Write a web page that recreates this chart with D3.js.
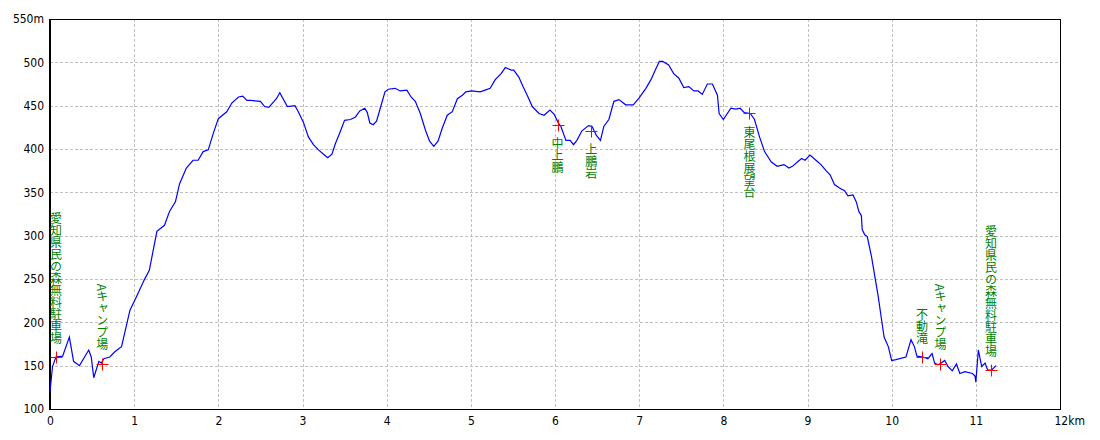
<!DOCTYPE html>
<html>
<head>
<meta charset="utf-8">
<script src="https://cdn.jsdelivr.net/npm/d3@7"></script>
<style>
  body { margin: 0; background: #fff; }
  .tick text { font-family: "Liberation Sans Narrow", "DejaVu Sans Condensed", sans-serif; font-stretch: condensed; font-size: 12px; fill: #000; }
  .wp { font-family: "Noto Sans CJK JP", sans-serif; font-size: 12px; fill: #008000; writing-mode: vertical-rl; }
</style>
</head>
<body>
<div id="chart"></div>
<script>
// altitude profile (km, m)
var distKm = [0.00, 0.03, 0.07, 0.15, 0.23, 0.28, 0.35, 0.46, 0.49, 0.52, 0.58, 0.61, 0.64, 0.71, 0.77, 0.85, 0.95,
  1.03, 1.12, 1.18, 1.27, 1.36, 1.42, 1.49, 1.54, 1.62, 1.70, 1.76, 1.82, 1.88, 1.94, 2.00, 2.10, 2.16, 2.24, 2.29,
  2.34, 2.38, 2.50, 2.55, 2.60, 2.69, 2.73, 2.82, 2.91, 2.95, 3.01, 3.07, 3.13, 3.19, 3.25, 3.30, 3.35, 3.39, 3.44,
  3.50, 3.57, 3.63, 3.68, 3.74, 3.77, 3.80, 3.84, 3.88, 3.93, 3.98, 4.02, 4.10, 4.16, 4.24, 4.29, 4.34, 4.40, 4.46,
  4.51, 4.56, 4.61, 4.66, 4.72, 4.78, 4.84, 4.90, 4.94, 5.01, 5.11, 5.17, 5.23, 5.29, 5.36, 5.41, 5.48, 5.51, 5.57,
  5.62, 5.67, 5.73, 5.81, 5.87, 5.94, 5.99, 6.04, 6.07, 6.13, 6.18, 6.22, 6.26, 6.32, 6.40, 6.44, 6.49, 6.54, 6.58,
  6.64, 6.70, 6.76, 6.84, 6.93, 7.00, 7.08, 7.14, 7.20, 7.24, 7.28, 7.35, 7.41, 7.47, 7.53, 7.59, 7.65, 7.70, 7.75,
  7.81, 7.87, 7.93, 7.95, 8.00, 8.09, 8.15, 8.20, 8.25, 8.32, 8.37, 8.43, 8.49, 8.57, 8.64, 8.72, 8.78, 8.82, 8.88,
  8.93, 8.97, 9.03, 9.10, 9.16, 9.22, 9.27, 9.32, 9.38, 9.44, 9.48, 9.54, 9.58, 9.61, 9.64, 9.65, 9.68, 9.71, 9.76,
  9.80, 9.84, 9.88, 9.91, 9.96, 10.00, 10.05, 10.17, 10.23, 10.27, 10.30, 10.37, 10.43, 10.48, 10.51, 10.55, 10.59,
  10.63, 10.67, 10.72, 10.77, 10.81, 10.87, 10.96, 10.99, 11.00, 11.03, 11.07, 11.11, 11.14, 11.19, 11.24];
var altM = [120, 149, 160, 161, 183, 155, 150, 168, 160, 136, 155, 153, 158, 160, 166, 172, 214,
  230, 249, 260, 305, 312, 328, 339, 360, 378, 387, 387, 397, 399, 418, 435, 443, 453, 460, 461,
  456, 456, 455, 449, 448, 458, 465, 449, 450, 443, 431, 414, 405, 399, 394, 390, 394, 406, 418,
  433, 434, 437, 444, 447, 442, 430, 428, 432, 449, 466, 469, 470, 467, 468, 460, 455, 441, 422,
  409, 403, 409, 424, 439, 443, 458, 462, 466, 467, 466, 468, 470, 480, 487, 494, 491, 491, 483,
  472, 462, 449, 441, 439, 445, 440, 430, 426, 410, 410, 405, 410, 421, 427, 426, 416, 410, 426,
  434, 455, 457, 451, 451, 459, 470, 480, 493, 501, 501, 497, 487, 482, 471, 472, 467, 467, 463,
  475, 475, 462, 441, 434, 447, 446, 447, 442, 441, 434, 414, 397, 385, 380, 382, 378, 380, 385,
  389, 387, 393, 387, 382, 375, 370, 359, 355, 352, 346, 347, 339, 328, 323, 307, 301, 299, 276,
  253, 230, 203, 183, 172, 156, 157, 160, 180, 172, 161, 160, 158, 164, 153, 151, 153,
  156, 149, 144, 152, 141, 143, 141, 138, 131, 168, 149, 153, 145, 145, 150];

// waypoints
var wpNames = ["愛知県民の森無料駐車場", "Aキャンプ場", "中上鵬", "上鵬岩", "東尾根展望台", "不動滝", "Aキャンプ場", "愛知県民の森無料駐車場"];
var wpKm = [0.07, 0.62, 6.03, 6.43, 8.31, 10.36, 10.58, 11.18];
var wpAlt = [160, 152, 428, 421, 441, 160, 152, 145];

var xTicks = [0, 1, 2, 3, 4, 5, 6, 7, 8, 9, 10, 11, 12];
var yTicks = [100, 150, 200, 250, 300, 350, 400, 450, 500, 550];

var width = 1100;
var height = 440;
var mLeft = 50, mRight = 1060, mTop = 19, mBottom = 409;

var svg = d3.select("#chart").append("svg")
  .attr("width", width)
  .attr("height", height);

var xS = d3.scaleLinear().domain([0, 12]).range([mLeft, mRight]);
var yS = d3.scaleLinear().domain([100, 550]).range([mBottom, mTop]);

// grid
svg.append("g").selectAll("line").data(xTicks.slice(1, -1)).enter().append("line")
  .attr("x1", function(d) { return Math.round(xS(d)) + 0.5; })
  .attr("x2", function(d) { return Math.round(xS(d)) + 0.5; })
  .attr("y1", mTop).attr("y2", mBottom)
  .attr("stroke", "#c0c0c0").attr("stroke-dasharray", "3,2");
svg.append("g").selectAll("line").data(yTicks.slice(1, -1)).enter().append("line")
  .attr("y1", function(d) { return Math.round(yS(d)) + 0.5; })
  .attr("y2", function(d) { return Math.round(yS(d)) + 0.5; })
  .attr("x1", mLeft).attr("x2", mRight)
  .attr("stroke", "#c0c0c0").attr("stroke-dasharray", "3,2");

// axes
var xAxis = d3.axisBottom(xS).tickValues(xTicks).tickSize(0).tickPadding(7)
  .tickFormat(function(d) { return d === 12 ? "12km" : d; });
var yAxis = d3.axisLeft(yS).tickValues(yTicks).tickSize(0).tickPadding(6)
  .tickFormat(function(d) { return d === 550 ? "550m" : d; });

svg.append("g").attr("class", "xAxis")
  .attr("transform", "translate(0," + mBottom + ")")
  .call(xAxis)
  .call(function(g) { g.select(".domain").remove(); });
svg.select(".xAxis").selectAll(".tick text")
  .filter(function(d) { return d === 12; })
  .attr("text-anchor", "start").attr("dx", -6);

svg.append("g").attr("class", "yAxis")
  .attr("transform", "translate(" + mLeft + ",0)")
  .call(yAxis)
  .call(function(g) { g.select(".domain").remove(); });

// frame
svg.append("rect")
  .attr("x", mLeft + 0.5).attr("y", mTop + 0.5)
  .attr("width", mRight - mLeft).attr("height", mBottom - mTop)
  .attr("fill", "none").attr("stroke", "#000");
svg.append("line")
  .attr("x1", mLeft).attr("x2", mLeft).attr("y1", mTop).attr("y2", mBottom + 1)
  .attr("stroke", "#000").attr("stroke-width", 2);

// profile
var line = d3.line()
  .x(function(d, i) { return xS(distKm[i]); })
  .y(function(d) { return yS(d); });
svg.append("path")
  .datum(altM)
  .attr("d", line)
  .attr("fill", "none")
  .attr("stroke", "#0000ff")
  .attr("stroke-width", 1.2);

// waypoint crosses and labels
var wp = svg.append("g").selectAll("g").data(wpNames).enter().append("g");
wp.append("path")
  .attr("d", function(d, i) {
    var cx = Math.round(xS(wpKm[i])) + 0.5, cy = Math.round(yS(wpAlt[i])) + 0.5;
    return "M" + (cx - 6) + "," + cy + "H" + (cx + 6) + "M" + cx + "," + (cy - 6) + "V" + (cy + 6);
  })
  .attr("stroke", "#ff0000").attr("fill", "none");
wp.append("text")
  .attr("class", "wp")
  .attr("x", function(d, i) { return xS(wpKm[i]); })
  .attr("y", function(d, i) {
    var below = wpAlt[i] > 300;
    return yS(wpAlt[i]) + (below ? 13 : -13);
  })
  .attr("text-anchor", function(d, i) { return wpAlt[i] > 300 ? "start" : "end"; })
  .text(function(d) { return d; });
</script>
</body>
</html>
